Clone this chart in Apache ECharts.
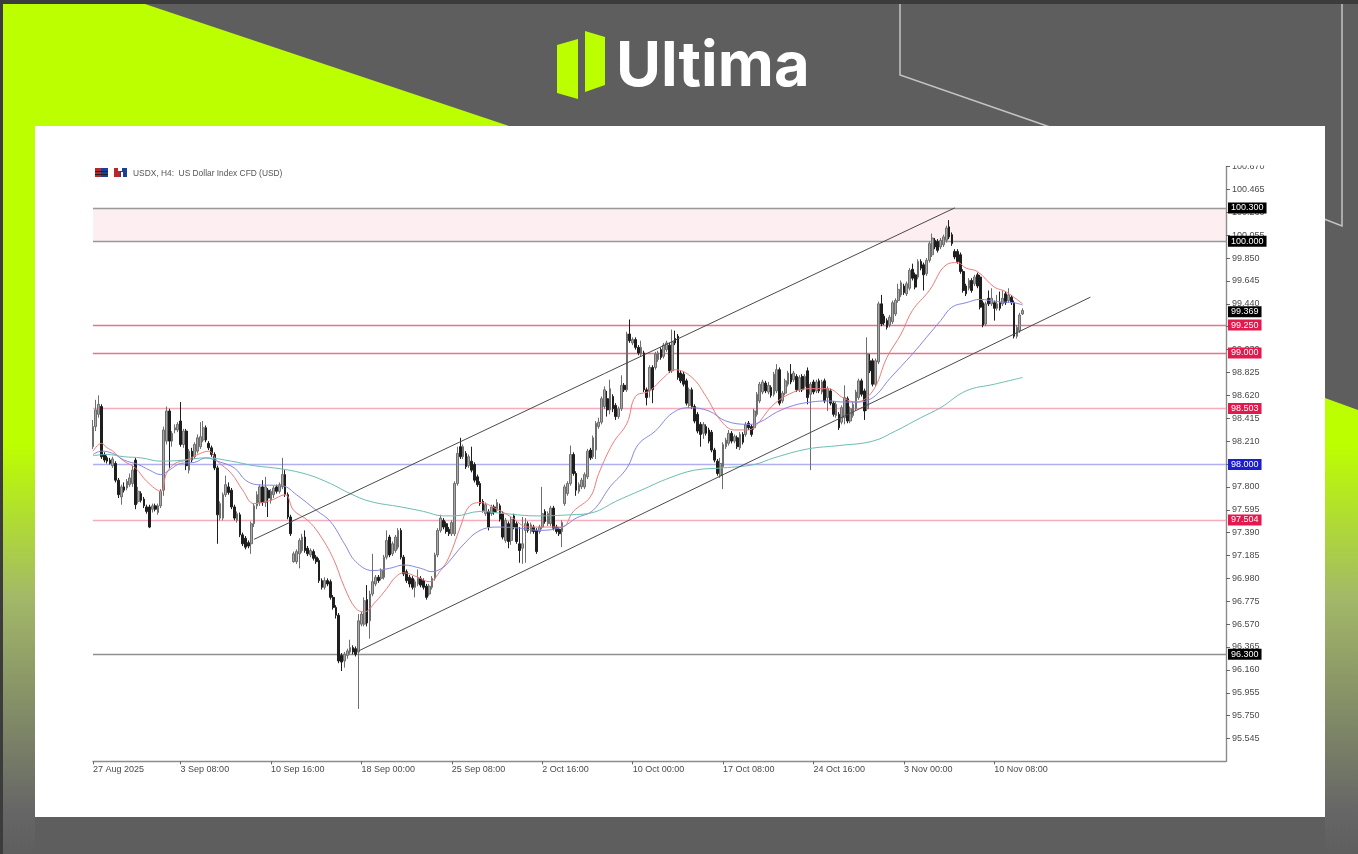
<!DOCTYPE html>
<html>
<head>
<meta charset="utf-8">
<title>USDX H4</title>
<script src="https://cdn.jsdelivr.net/npm/echarts@6/dist/echarts.min.js"></script>
<style>
html,body{margin:0;padding:0;background:#5e5e5e;overflow:hidden}
#c{width:1358px;height:854px;filter:blur(0.55px)}
</style>
</head>
<body>
<div id="c"></div>
<script>
// ---- DATA ----
const opens = [
98.16,98.34,98.45,98.52,98.09,98.06,98.04,97.99,98.01,97.86,
97.71,97.80,97.79,97.82,97.83,98.04,97.67,97.74,97.69,97.62,
97.62,97.60,97.63,97.57,97.63,97.77,98.21,98.48,98.21,98.31,
98.31,98.39,98.18,98.30,97.95,98.12,98.07,98.12,98.16,98.22,
98.33,98.19,98.15,98.09,97.97,97.52,97.52,97.73,97.80,97.77,
97.62,97.50,97.55,97.37,97.34,97.30,97.29,97.47,97.63,97.66,
97.80,97.66,97.77,97.68,97.73,97.80,97.76,97.80,97.91,97.73,
97.53,97.13,97.13,97.20,97.23,97.35,97.25,97.19,97.22,97.17,
97.14,96.96,96.90,96.96,96.95,96.81,96.72,96.65,96.29,96.24,
96.29,96.32,96.36,96.35,96.32,96.57,96.57,96.79,96.60,96.84,
96.93,96.99,96.98,96.99,97.17,97.35,97.20,97.23,97.26,97.41,
97.17,97.04,96.99,96.98,96.90,96.93,96.98,96.96,96.91,96.84,
96.90,96.98,97.19,97.41,97.50,97.47,97.42,97.38,97.38,97.83,
98.16,98.07,98.10,97.99,98.03,98.00,97.89,97.83,97.67,97.56,
97.58,97.56,97.62,97.59,97.63,97.56,97.32,97.47,97.32,97.54,
97.47,97.29,97.25,97.41,97.47,97.40,97.44,97.41,97.40,97.44,
97.58,97.47,97.47,97.61,97.44,97.42,97.40,97.65,97.74,97.83,
98.09,97.92,97.76,97.80,97.80,97.89,98.13,98.07,98.13,98.34,
98.38,98.52,98.59,98.49,98.61,98.53,98.43,98.50,98.71,98.67,
99.17,99.09,99.12,99.05,98.99,99.00,98.67,98.66,98.87,98.87,
98.94,99.03,98.97,99.03,99.07,98.84,99.13,99.15,98.82,98.81,
98.75,98.53,98.67,98.52,98.45,98.36,98.28,98.34,98.31,98.29,
98.13,98.03,97.90,97.98,98.16,98.19,98.28,98.21,98.24,98.15,
98.27,98.27,98.37,98.34,98.33,98.45,98.57,98.65,98.73,98.65,
98.69,98.63,98.66,98.85,98.57,98.64,98.72,98.81,98.76,98.79,
98.67,98.79,98.70,98.84,98.63,98.74,98.66,98.75,98.65,98.75,
98.60,98.66,98.55,98.44,98.45,98.38,98.42,98.59,98.39,98.44,
98.50,98.60,98.75,98.66,98.50,98.93,98.93,98.72,98.92,99.44,
99.33,99.29,99.25,99.28,99.35,99.47,99.52,99.60,99.53,99.58,
99.75,99.70,99.68,99.82,99.79,99.71,99.83,99.88,100.01,100.00,
99.95,99.97,100.01,100.13,100.06,99.91,99.91,99.88,99.73,99.60,
99.58,99.65,99.62,99.70,99.68,99.45,99.26,99.49,99.44,99.45,
99.40,99.45,99.44,99.53,99.47,99.50,99.45,99.15,99.20,99.35
];
const closes = [
98.34,98.49,98.54,98.07,98.04,98.03,98.01,98.05,97.86,97.73,
97.80,97.77,97.85,97.88,97.95,97.64,97.76,97.68,97.63,97.58,
97.44,97.63,97.60,97.63,97.76,98.31,98.48,98.21,98.28,98.33,
98.36,98.18,98.30,97.99,98.12,98.04,98.18,98.24,98.25,98.33,
98.22,98.15,98.09,97.97,97.55,97.65,97.73,97.82,97.75,97.62,
97.52,97.56,97.37,97.29,97.26,97.27,97.47,97.63,97.73,97.80,
97.66,97.80,97.70,97.76,97.79,97.76,97.82,97.91,97.73,97.53,
97.38,97.20,97.22,97.32,97.35,97.23,97.20,97.23,97.16,97.13,
96.96,96.90,96.96,96.93,96.81,96.72,96.65,96.24,96.23,96.30,
96.33,96.36,96.32,96.30,96.60,96.66,96.78,96.58,96.84,96.95,
96.99,96.96,97.05,97.17,97.32,97.19,97.29,97.35,97.41,97.17,
97.02,96.96,96.93,96.90,96.95,96.98,96.92,96.90,96.81,96.91,
96.98,97.19,97.41,97.52,97.44,97.40,97.38,97.48,97.83,98.10,
98.07,98.16,97.98,98.07,97.95,97.86,97.82,97.65,97.59,97.64,
97.44,97.62,97.57,97.66,97.51,97.35,97.50,97.31,97.51,97.44,
97.31,97.23,97.29,97.47,97.41,97.46,97.40,97.22,97.44,97.56,
97.49,97.56,97.61,97.43,97.40,97.38,97.48,97.80,97.83,98.09,
97.92,97.77,97.82,97.86,97.91,98.12,98.06,98.24,98.37,98.38,
98.59,98.67,98.49,98.68,98.50,98.43,98.50,98.71,98.67,99.17,
99.11,99.12,99.05,99.00,99.05,98.67,98.60,98.87,98.67,98.99,
99.00,98.96,99.07,99.09,98.84,99.10,99.09,98.78,98.75,98.72,
98.55,98.67,98.52,98.39,98.30,98.27,98.36,98.28,98.21,98.13,
98.04,97.92,98.01,98.18,98.22,98.28,98.21,98.25,98.16,98.27,
98.20,98.36,98.33,98.27,98.48,98.63,98.72,98.74,98.66,98.71,
98.62,98.81,98.85,98.55,98.64,98.75,98.82,98.74,98.82,98.67,
98.78,98.67,98.79,98.60,98.72,98.65,98.74,98.66,98.74,98.57,
98.68,98.55,98.45,98.54,98.33,98.51,98.60,98.39,98.50,98.54,
98.65,98.75,98.63,98.48,98.99,98.84,98.72,98.93,99.44,99.26,
99.27,99.23,99.32,99.45,99.47,99.57,99.63,99.54,99.62,99.74,
99.67,99.59,99.82,99.76,99.70,99.83,99.98,100.03,99.95,99.92,
100.01,100.04,100.12,100.04,99.98,99.86,99.82,99.73,99.56,99.53,
99.65,99.56,99.68,99.60,99.41,99.25,99.44,99.44,99.49,99.40,
99.44,99.40,99.49,99.45,99.52,99.45,99.15,99.23,99.34,99.38
];
const highs = [
98.40,98.58,98.62,98.54,98.11,98.08,98.06,98.07,98.03,97.88,
97.82,97.84,97.87,97.92,97.99,98.06,97.80,97.76,97.71,97.64,
97.64,97.65,97.65,97.65,97.78,98.34,98.52,98.50,98.30,98.36,
98.38,98.56,98.32,98.32,98.14,98.15,98.20,98.27,98.38,98.39,
98.35,98.21,98.17,98.11,97.99,97.67,97.75,97.90,97.84,97.79,
97.64,97.58,97.57,97.39,97.36,97.32,97.49,97.65,97.76,97.82,
97.86,97.89,97.79,97.78,97.81,97.82,97.84,98.06,97.95,97.75,
97.55,97.22,97.24,97.34,97.38,97.41,97.27,97.25,97.24,97.19,
97.16,96.98,96.99,96.98,96.97,96.83,96.74,96.67,96.31,96.32,
96.35,96.43,96.38,96.37,96.66,96.68,96.81,96.92,96.87,97.20,
97.01,97.01,97.07,97.19,97.41,97.37,97.31,97.37,97.43,97.43,
97.19,97.06,97.01,97.00,96.97,97.06,97.00,96.98,96.93,96.93,
97.00,97.21,97.43,97.55,97.52,97.49,97.44,97.50,97.85,98.16,
98.24,98.18,98.12,98.09,98.16,98.02,97.91,97.85,97.69,97.66,
97.60,97.64,97.64,97.69,97.65,97.58,97.52,97.49,97.53,97.56,
97.49,97.44,97.53,97.52,97.49,97.48,97.46,97.43,97.46,97.80,
97.60,97.58,97.63,97.63,97.46,97.44,97.50,97.82,97.85,98.17,
98.11,97.94,97.84,97.88,97.93,98.14,98.15,98.26,98.39,98.42,
98.61,98.70,98.66,98.76,98.63,98.55,98.52,98.80,98.73,99.19,
99.30,99.14,99.14,99.07,99.11,99.02,98.69,98.89,98.89,99.01,
99.02,99.05,99.09,99.11,99.09,99.21,99.20,99.17,98.84,98.83,
98.77,98.69,98.69,98.54,98.47,98.38,98.38,98.36,98.33,98.31,
98.15,98.05,98.06,98.20,98.24,98.31,98.30,98.27,98.26,98.29,
98.29,98.38,98.39,98.36,98.50,98.65,98.74,98.76,98.75,98.74,
98.71,98.83,98.90,98.87,98.66,98.77,98.84,98.90,98.84,98.81,
98.80,98.81,98.81,98.87,98.74,98.76,98.76,98.77,98.76,98.77,
98.70,98.68,98.57,98.56,98.47,98.53,98.71,98.61,98.52,98.56,
98.67,98.77,98.77,98.68,99.14,98.99,98.95,98.95,99.46,99.52,
99.35,99.31,99.34,99.47,99.49,99.62,99.65,99.62,99.64,99.76,
99.80,99.72,99.84,99.84,99.81,99.85,100.00,100.07,100.03,100.02,
100.03,100.06,100.14,100.19,100.08,99.93,99.93,99.90,99.75,99.62,
99.67,99.67,99.70,99.72,99.70,99.47,99.46,99.56,99.58,99.47,
99.52,99.55,99.56,99.55,99.58,99.52,99.47,99.25,99.36,99.40
];
const lows = [
98.14,98.30,98.42,98.05,98.02,98.01,98.00,97.97,97.84,97.70,
97.64,97.75,97.77,97.80,97.80,97.60,97.65,97.66,97.61,97.56,
97.43,97.57,97.58,97.55,97.61,97.72,98.18,97.97,98.16,98.28,
98.29,98.16,98.15,97.95,97.92,98.02,98.05,98.10,98.14,98.20,
98.20,98.13,98.07,97.95,97.29,97.50,97.50,97.71,97.73,97.60,
97.50,97.48,97.35,97.27,97.24,97.25,97.20,97.44,97.60,97.63,
97.63,97.62,97.53,97.65,97.70,97.74,97.74,97.78,97.71,97.51,
97.36,97.12,97.11,97.07,97.21,97.21,97.18,97.17,97.14,97.11,
96.94,96.88,96.88,96.91,96.79,96.70,96.62,96.22,96.15,96.18,
96.26,96.30,96.30,96.28,95.81,96.55,96.55,96.55,96.44,96.82,
96.91,96.94,96.96,96.97,97.15,97.17,97.18,97.21,97.24,97.15,
97.00,96.94,96.90,96.88,96.81,96.91,96.90,96.88,96.79,96.82,
96.88,96.96,97.17,97.39,97.42,97.38,97.36,97.36,97.36,97.81,
98.05,98.05,97.96,97.97,97.93,97.84,97.80,97.63,97.57,97.54,
97.41,97.54,97.55,97.57,97.49,97.33,97.30,97.25,97.28,97.42,
97.29,97.12,97.11,97.12,97.39,97.38,97.38,97.20,97.38,97.42,
97.47,97.45,97.45,97.41,97.38,97.36,97.26,97.63,97.72,97.81,
97.90,97.72,97.74,97.78,97.78,97.87,98.04,98.05,98.05,98.32,
98.36,98.50,98.43,98.45,98.47,98.40,98.41,98.48,98.65,98.65,
99.09,99.07,99.03,98.98,98.97,98.65,98.53,98.60,98.55,98.85,
98.92,98.94,98.95,99.01,98.82,98.82,99.07,98.76,98.73,98.70,
98.53,98.51,98.50,98.37,98.28,98.16,98.23,98.26,98.19,98.11,
98.02,97.90,97.88,97.78,98.14,98.17,98.19,98.19,98.14,98.13,
98.18,98.25,98.31,98.25,98.31,98.43,98.55,98.63,98.64,98.63,
98.60,98.61,98.64,98.53,98.55,98.62,98.70,98.72,98.74,98.65,
98.65,98.65,98.68,98.54,97.95,98.63,98.64,98.64,98.63,98.55,
98.48,98.53,98.43,98.42,98.31,98.36,98.36,98.37,98.37,98.42,
98.48,98.58,98.61,98.40,98.48,98.82,98.70,98.70,98.90,99.24,
99.25,99.21,99.23,99.26,99.33,99.45,99.50,99.52,99.51,99.56,
99.65,99.57,99.66,99.74,99.56,99.69,99.81,99.86,99.93,99.90,
99.93,99.95,99.99,100.02,99.96,99.84,99.80,99.71,99.54,99.51,
99.56,99.54,99.60,99.58,99.39,99.23,99.24,99.42,99.42,99.29,
99.38,99.38,99.42,99.43,99.45,99.43,99.13,99.13,99.18,99.34
];

const fastBars = [1,4,6,8,12,16,20,25,27,30,34,39,42,45,50,54,58,64,69,72,77,81,86,90,94,97,101,105,108,111,116,120,124,127,131,134,138,144,149,155,160,167,171,177,180,185,190,193,198,203,207,213,218,223,228,233,236,242,249,255,261,267,271,277,282,287,291,297,303,307,310,314,320,324,330];
const fastMA = [98.12,98.19,98.15,98.12,98.03,97.97,97.85,97.76,97.92,98.01,98.04,98.10,98.12,98.03,97.92,97.77,97.65,97.68,97.73,97.59,97.50,97.38,97.16,96.90,96.71,96.68,96.77,96.89,96.99,97.03,96.99,96.95,97.05,97.17,97.44,97.62,97.66,97.60,97.53,97.44,97.44,97.44,97.58,97.71,97.92,98.19,98.37,98.61,98.66,98.78,98.85,98.78,98.61,98.40,98.31,98.31,98.36,98.54,98.65,98.68,98.68,98.59,98.56,98.66,98.96,99.17,99.38,99.56,99.79,99.81,99.76,99.73,99.59,99.55,99.44];
const midBars = [1,4,8,12,17,21,25,28,32,37,41,45,51,55,59,68,73,80,85,90,94,100,106,111,117,121,125,127,132,138,145,152,159,167,172,178,184,190,194,200,206,212,219,225,233,237,243,249,255,261,267,271,277,283,291,296,301,305,310,315,321,327,330];
const midMA = [98.09,98.12,98.10,98.04,98.00,97.95,97.91,97.95,98.01,98.02,98.06,98.03,97.97,97.86,97.82,97.81,97.73,97.59,97.49,97.29,97.13,97.05,97.07,97.10,97.07,97.04,97.08,97.13,97.28,97.41,97.44,97.43,97.41,97.44,97.52,97.59,97.80,97.97,98.18,98.30,98.46,98.51,98.48,98.39,98.36,98.38,98.47,98.53,98.56,98.57,98.56,98.56,98.60,98.77,98.99,99.14,99.29,99.41,99.45,99.48,99.46,99.45,99.43];
const slowBars = [1,6,12,18,25,33,41,50,58,68,77,85,92,99,110,118,125,129,138,147,158,170,178,186,195,205,214,224,235,242,254,265,277,285,294,301,310,320,330];
const slowMA = [98.08,98.09,98.07,98.06,98.03,98.04,98.06,98.03,97.99,97.96,97.91,97.83,97.74,97.67,97.62,97.58,97.54,97.54,97.58,97.56,97.54,97.55,97.57,97.67,97.77,97.88,97.95,97.97,98.00,98.06,98.14,98.17,98.21,98.30,98.42,98.51,98.66,98.72,98.78];

const channelBars = [[58,306],[95,354]];
const channelPrices = [[97.33,100.30],[96.33,99.50]];

const levelPrices = [100.3,100.0,99.25,99.0,98.503,98.0,97.504,96.3];
const lastPrice = 99.369;
const priceTicks = [100.67,100.465,100.26,100.055,99.85,99.645,99.44,99.235,99.03,98.825,98.62,98.415,98.21,98.005,97.8,97.595,97.39,97.185,96.98,96.775,96.57,96.365,96.16,95.955,95.75,95.545];
const dateTicks = ["27 Aug 2025","3 Sep 08:00","10 Sep 16:00","18 Sep 00:00","25 Sep 08:00","2 Oct 16:00","10 Oct 00:00","17 Oct 08:00","24 Oct 16:00","3 Nov 00:00","10 Nov 08:00"];

// ---- BUILD ----
const SLOTS = 402;
const categories = new Array(SLOTS).fill('');
dateTicks.forEach((t, k) => { categories[k === 0 ? 0 : k * 32 - 1] = t; });
const labelSlot = i => categories[i] !== '';

const candles = opens.map((o, i) => [o, closes[i], lows[i], highs[i]]);
const pts = (bars, vals) => bars.map((b, k) => [b - 1, vals[k]]);
const maLine = (name, bars, vals, color) => ({
  name, type: 'line', data: pts(bars, vals), symbol: 'none', smooth: 0.4, silent: true, z: 5,
  lineStyle: { color, width: 1 }
});
const trend = (bars, prices, name) => ({
  name, type: 'line', data: pts(bars, prices), symbol: 'none', silent: true, z: 6,
  lineStyle: { color: '#4a4a4a', width: 1 }
});

const levelLine = ['#989898','#989898','#ee6f8a','#ee6f8a','#f5adbe','#b0b0f0','#f5adbe','#909090'];
const levelBox  = ['#000','#000','#e5174c','#e5174c','#e5174c','#1c1cd0','#e5174c','#000'];
const boxLabel = (bg) => ({
  show: true, position: 'end', distance: 2, color: '#fff', fontSize: 9, fontFamily: 'Liberation Sans',
  backgroundColor: bg, padding: [1, 3, 1, 3], formatter: p => p.value.toFixed(3)
});
const levelMarks = levelPrices.map((v, i) => ({
  yAxis: v, lineStyle: { color: levelLine[i], width: 1.4, type: 'solid' }, label: boxLabel(levelBox[i])
}));
levelMarks.push({ yAxis: lastPrice, lineStyle: { color: 'rgba(255,255,255,0)', width: 1 }, label: boxLabel('#000') });

const lime = { type: 'linear', x: 0, y: 0, x2: 0, y2: 854, global: true,
  colorStops: [{ offset: 0, color: '#bcff00' }, { offset: 0.52, color: '#bcff00' }, { offset: 0.70, color: '#a3b868' }, { offset: 0.95, color: '#666666' }, { offset: 1, color: '#5e5e5e' }] };
const poly = (points, fill) => ({ type: 'polygon', silent: true, shape: { points }, style: { fill } });
const rect = (x, y, width, height, fill) => ({ type: 'rect', silent: true, shape: { x, y, width, height }, style: { fill } });
const stroke = (points) => ({ type: 'polyline', silent: true, shape: { points }, style: { stroke: '#c4c4c4', lineWidth: 1.5, fill: null } });

const backdrop = [
  rect(0, 0, 1358, 854, '#5e5e5e'),
  rect(0, 0, 1358, 4, '#3c3c3c'),
  rect(0, 0, 3, 854, '#3c3c3c'),
  poly([[3,4],[145,4],[512,127],[35,127],[35,854],[3,854]], lime),
  poly([[1325,398],[1358,410],[1358,854],[1325,854]], lime),
  stroke([[900,4],[900,75],[1050,127]]),
  stroke([[1342,4],[1342,226],[1324,219]]),
  rect(35, 126, 1290, 691, '#ffffff'),
  poly([[557,45],[578,39],[578,99],[557,93]], '#bcff00'),
  poly([[585,31],[605,37],[605,85],[585,92]], '#bcff00'),
  { type: 'text', silent: true, x: 616, y: 68, style: { text: 'Ultima', fill: '#ffffff', font: '700 61.5px Inter', textVerticalAlign: 'middle', verticalAlign: 'middle' } },
  rect(95, 168, 6, 9, '#b8272c'), rect(101, 168, 7, 9, '#1b3f9c'), rect(95, 171, 13, 1, '#222'), rect(95, 174, 13, 1, '#222'),
  rect(114, 168, 6, 9, '#b8272c'), rect(120, 168, 7, 9, '#1b3f9c'), rect(118, 168, 4, 3, '#ffffff'), rect(121, 172, 2, 5, '#ffffff'),
  { type: 'text', silent: true, x: 133, y: 174, style: { text: 'USDX, H4:  US Dollar Index CFD (USD)', fill: '#555', font: '8.4px "Liberation Sans"', textVerticalAlign: 'middle', verticalAlign: 'middle' } }
];
const topMask = rect(1227, 150, 60, 15.5, '#ffffff');

const chart = echarts.init(document.getElementById('c'), null, { width: 1358, height: 854, renderer: 'canvas' });
chart.setOption({
  animation: false,
  backgroundColor: 'transparent',
  grid: { left: 93, right: 132, top: 166.6, bottom: 92.6, containLabel: false },
  graphic: { elements: backdrop.map(e => Object.assign({ z: -10 }, e)).concat([Object.assign({ z: 50 }, topMask)]) },
  xAxis: {
    type: 'category', data: categories, boundaryGap: false, z: 1,
    axisLine: { show: true, lineStyle: { color: '#8c8c8c', width: 1.4 } },
    axisTick: { show: true, length: 3, interval: labelSlot, lineStyle: { color: '#666' } },
    axisLabel: { show: true, interval: labelSlot, align: 'left', margin: 4, fontSize: 9, color: '#4a4a4a', fontFamily: 'Liberation Sans' },
    splitLine: { show: false }
  },
  yAxis: {
    type: 'value', position: 'right', min: 95.34, max: 100.67, scale: true, z: 1,
    axisLine: { show: true, lineStyle: { color: '#8c8c8c', width: 1.4 } },
    axisTick: { show: true, length: 4, customValues: priceTicks, lineStyle: { color: '#666' } },
    axisLabel: { show: true, customValues: priceTicks, margin: 6, fontSize: 9, color: '#4a4a4a', fontFamily: 'Liberation Sans', formatter: v => v.toFixed(3) },
    splitLine: { show: false }
  },
  series: [
    {
      name: 'USDX', type: 'candlestick', data: candles, barWidth: 2.2, z: 4, silent: true,
      itemStyle: { color: '#a8a8a8', color0: '#1e1e1e', borderColor: '#6e6e6e', borderColor0: '#1e1e1e', borderWidth: 1 },
      markArea: {
        silent: true, z: 1,
        itemStyle: { color: '#fdeef2' },
        data: [[{ yAxis: levelPrices[1] }, { yAxis: levelPrices[0] }]]
      },
      markLine: { silent: true, symbol: 'none', precision: 3, z: 3, animation: false, data: levelMarks }
    },
    maLine('MA fast', fastBars, fastMA, '#f07a7a'),
    maLine('MA mid', midBars, midMA, '#8686e2'),
    maLine('MA slow', slowBars, slowMA, '#6cbdb0'),
    trend(channelBars[0], channelPrices[0], 'channel top'),
    trend(channelBars[1], channelPrices[1], 'channel bottom')
  ]
});
</script>
</body>
</html>
